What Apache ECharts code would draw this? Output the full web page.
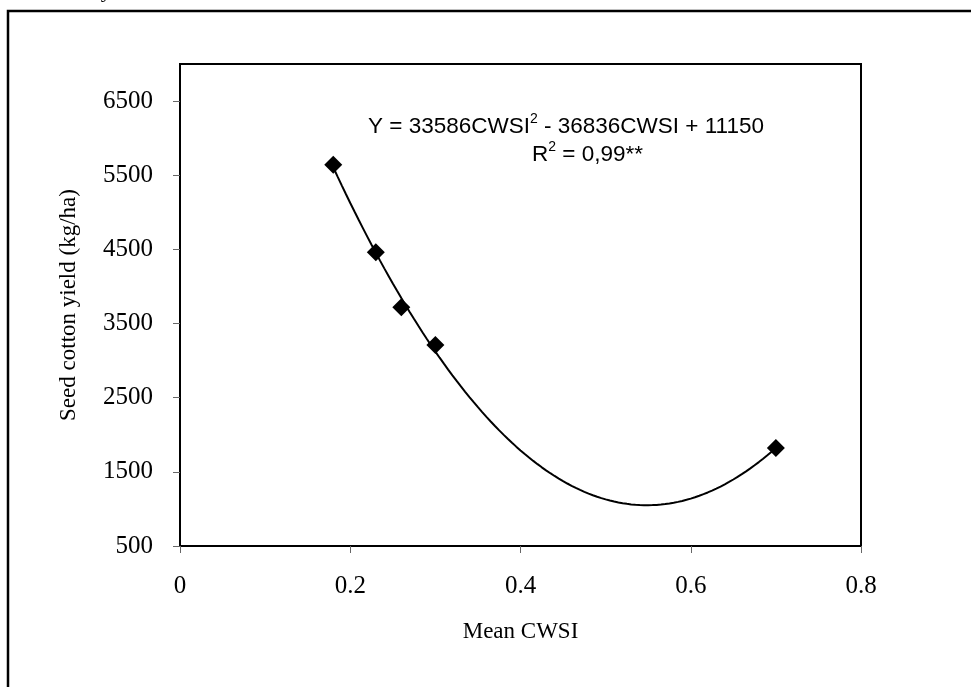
<!DOCTYPE html>
<html>
<head>
<meta charset="utf-8">
<script src="https://cdn.jsdelivr.net/npm/echarts@6/dist/echarts.min.js"></script>
<style>
  html, body { margin: 0; padding: 0; background: #fff; }
  #chart { width: 971px; height: 687px; }
</style>
</head>
<body>
<div id="chart"></div>
<script>
// measured points
const cwsi = [0.18, 0.23, 0.26, 0.30, 0.70];
const yieldKgHa = [5640, 4460, 3720, 3210, 1820];
const xTicks = [0, 0.2, 0.4, 0.6, 0.8];
const yTicks = [500, 1500, 2500, 3500, 4500, 5500, 6500];
// 2nd order trendline as printed on the chart: c0 + c1*x + c2*x^2
const trendCoef = [11150, -36836, 33586];
const trendRange = [0.18, 0.70];

const serif = "'Liberation Serif', 'Times New Roman', serif";
const sans = "'Liberation Sans', Arial, sans-serif";

const points = cwsi.map((x, i) => [x, yieldKgHa[i]]);
const trend = [];
for (let x = trendRange[0]; x <= trendRange[1] + 1e-9; x += 0.005) {
  trend.push([x, trendCoef[0] + trendCoef[1] * x + trendCoef[2] * x * x]);
}

const chart = echarts.init(document.getElementById("chart"));
const option = {
  animation: false,
  backgroundColor: "#fff",
  grid: {
    left: 180,
    top: 64,
    right: 110,
    bottom: 141,
    show: true,
    borderColor: "#000",
    borderWidth: 2,
  },
  xAxis: {
    type: "value",
    min: 0,
    max: 0.8,
    interval: 0.2,
    name: "Mean CWSI",
    nameLocation: "middle",
    nameGap: 74,
    nameTextStyle: { fontFamily: serif, fontSize: 23, color: "#000" },
    axisLine: { lineStyle: { color: "#000", width: 2 } },
    axisTick: { show: true, length: 7, lineStyle: { color: "#666", width: 1 } },
    axisLabel: {
      customValues: xTicks,
      fontFamily: serif,
      fontSize: 25,
      color: "#000",
      margin: 28,
    },
    splitLine: { show: false },
  },
  yAxis: {
    type: "value",
    min: 500,
    max: 7000,
    name: "Seed cotton yield (kg/ha)",
    nameLocation: "middle",
    nameRotate: 90,
    nameGap: 100,
    nameTextStyle: { fontFamily: serif, fontSize: 23, color: "#000" },
    axisLine: { show: true, lineStyle: { color: "#000", width: 2 } },
    axisTick: {
      show: true,
      customValues: yTicks,
      length: 7,
      lineStyle: { color: "#666", width: 1 },
    },
    axisLabel: {
      customValues: yTicks,
      formatter: (v) => String(v),
      fontFamily: serif,
      fontSize: 25,
      color: "#000",
      margin: 27,
    },
    splitLine: { show: false },
  },
  series: [
    {
      type: "line",
      data: trend,
      showSymbol: false,
      lineStyle: { color: "#000", width: 2 },
      z: 2,
    },
    {
      type: "scatter",
      data: points,
      symbol: "diamond",
      symbolSize: 18,
      itemStyle: { color: "#000", opacity: 1 },
      z: 3,
    },
  ],
  graphic: [
    {
      type: "rect",
      shape: { x: 8, y: 11, width: 1200, height: 1000 },
      style: { fill: "none", stroke: "#000", lineWidth: 2.5 },
      silent: true,
    },
    {
      type: "text",
      x: -8,
      y: 2,
      style: {
        text: "Seed cotton yield decreases as the CWSI increased.",
        font: "22px " + serif,
        fill: "#000",
        verticalAlign: "bottom",
      },
      silent: true,
    },
    {
      type: "text",
      x: 368,
      y: 112,
      style: {
        text: "{b|Y = 33586CWSI}{s|2}{b| - 36836CWSI + 11150}",
        rich: {
          b: { fontFamily: sans, fontSize: 22.5, lineHeight: 26, fill: "#000", verticalAlign: "bottom" },
          s: { fontFamily: sans, fontSize: 14, lineHeight: 26, fill: "#000", verticalAlign: "top" },
        },
      },
      silent: true,
    },
    {
      type: "text",
      x: 532,
      y: 140,
      style: {
        text: "{b|R}{s|2}{b| = 0,99**}",
        rich: {
          b: { fontFamily: sans, fontSize: 22.5, lineHeight: 26, fill: "#000", verticalAlign: "bottom" },
          s: { fontFamily: sans, fontSize: 14, lineHeight: 26, fill: "#000", verticalAlign: "top" },
        },
      },
      silent: true,
    },
  ],
};
chart.setOption(option);
</script>
</body>
</html>
